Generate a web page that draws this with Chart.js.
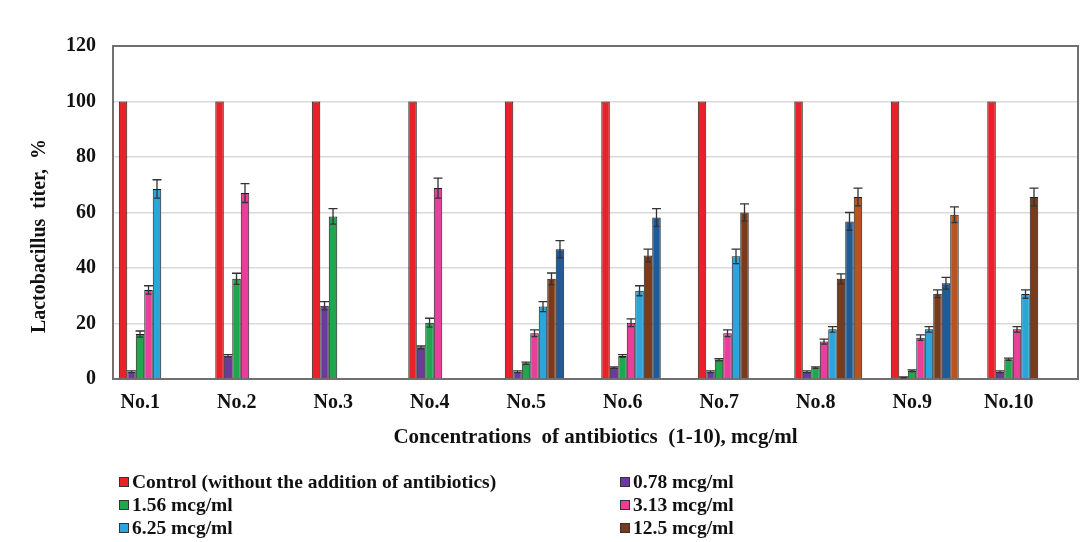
<!DOCTYPE html>
<html>
<head>
<meta charset="utf-8">
<script src="https://cdn.jsdelivr.net/npm/chart.js@4.4.0/dist/chart.umd.min.js"></script>
<style>
  html, body { margin: 0; padding: 0; background: #fff; }
  #wrap { position: relative; width: 1086px; height: 542px; }
  #legend { position: absolute; left: 0; top: 0; width: 1086px; height: 542px; pointer-events: none;
            font-family: "Liberation Serif", "Times New Roman", serif; font-weight: bold; font-size: 19.5px; color: #111; }
  .item { position: absolute; display: flex; align-items: center; white-space: nowrap; height: 22px; }
  .box { width: 8px; height: 8px; border: 1px solid #333; margin-right: 3px; }
</style>
</head>
<body>
<div id="wrap">
  <canvas id="c" width="1086" height="542"></canvas>
  <div id="legend"></div>
</div>
<script>
// ---- data ----
const categories = ["No.1", "No.2", "No.3", "No.4", "No.5", "No.6", "No.7", "No.8", "No.9", "No.10"];
const yTicks = [0, 20, 40, 60, 80, 100, 120];
const xTitle = "Concentrations  of antibiotics  (1-10), mcg/ml";
const yTitle = "Lactobacillus  titer,  %";

const control   = [100, 100, 100, 100, 100, 100, 100, 100, 100, 100];
const c078      = [2.6, 8.4, 26.4, 11.4, 2.6, 4.1, 2.6, 2.6, 0.6, 2.6];
const c156      = [16.2, 36.1, 58.6, 20.3, 5.7, 8.3, 6.9, 4.1, 3.0, 7.1];
const c313      = [32.1, 67.0, null, 68.8, 16.5, 20.3, 16.5, 13.5, 14.9, 17.9];
const c625      = [68.5, null, null, null, 26.1, 31.8, 44.2, 17.9, 17.9, 30.6];
const c125      = [null, null, null, null, 36.1, 44.5, 60.0, 36.1, 30.7, 65.6];
const c25       = [null, null, null, null, 46.8, 58.2, null, 56.8, 34.5, null];
const c50       = [null, null, null, null, null, null, null, 65.6, 59.2, null];

const errControl = [0, 0, 0, 0, 0, 0, 0, 0, 0, 0];
const err078     = [0.3, 0.4, 1.5, 0.5, 0.3, 0.3, 0.3, 0.3, 0.2, 0.3];
const err156     = [1.1, 2.0, 2.8, 1.6, 0.4, 0.5, 0.4, 0.3, 0.3, 0.4];
const err313     = [1.5, 3.4, null, 3.6, 1.2, 1.4, 1.2, 0.9, 1.0, 1.0];
const err625     = [3.3, null, null, null, 1.8, 1.8, 2.6, 1.0, 1.0, 1.5];
const err125     = [null, null, null, null, 2.1, 2.3, 3.1, 1.8, 1.4, 3.2];
const err25      = [null, null, null, null, 3.1, 3.2, null, 3.2, 2.1, null];
const err50      = [null, null, null, null, null, null, null, 3.2, 2.8, null];

const seriesNames = ["Control (without the addition of antibiotics)", "0.78 mcg/ml", "1.56 mcg/ml",
                     "3.13 mcg/ml", "6.25 mcg/ml", "12.5 mcg/ml", "25 mcg/ml", "50 mcg/ml"];
const seriesColors = ["#e8212a", "#6b3a9c", "#1fa64e", "#e8409a", "#2ba5dd", "#7a3a1c", "#1f5b98", "#b7541f"];
const seriesValues = [control, c078, c156, c313, c625, c125, c25, c50];
const seriesErrors = [errControl, err078, err156, err313, err625, err125, err25, err50];
const legendShown = [true, true, true, true, true, true, false, false];
// two unused slots per group (the original layout reserves room for them)
const emptySlot = [null, null, null, null, null, null, null, null, null, null];

// ---- build ----
const datasets = seriesValues.map((vals, i) => ({
  label: seriesNames[i],
  data: vals,
  backgroundColor: seriesColors[i],
  borderColor: "#1a1a1a",
  borderWidth: 1,
  errors: seriesErrors[i],
  categoryPercentage: 0.88,
  barPercentage: 1.0
}));
[0, 1].forEach(() => datasets.push({ label: "", data: emptySlot, categoryPercentage: 0.88, barPercentage: 1.0 }));

const FONT = "'Liberation Serif', 'Times New Roman', serif";

const errorBars = {
  id: "errorBars",
  afterDatasetsDraw(chart) {
    const ctx = chart.ctx;
    const y = chart.scales.y;
    ctx.save();
    ctx.strokeStyle = "#333";
    ctx.lineWidth = 1.3;
    chart.data.datasets.forEach((ds, di) => {
      if (!ds.errors) return;
      const meta = chart.getDatasetMeta(di);
      meta.data.forEach((bar, i) => {
        const v = ds.data[i], e = ds.errors[i];
        if (v == null || !e) return;
        const x = bar.x;
        const yt = y.getPixelForValue(v + e);
        const yb = y.getPixelForValue(v - e);
        ctx.beginPath();
        ctx.moveTo(x, yt); ctx.lineTo(x, yb);
        ctx.moveTo(x - 4.5, yt); ctx.lineTo(x + 4.5, yt);
        ctx.moveTo(x - 3, yb); ctx.lineTo(x + 3, yb);
        ctx.stroke();
      });
    });
    ctx.restore();
  }
};

const plotBox = {
  id: "plotBox",
  beforeDatasetsDraw(chart) {
    const a = chart.chartArea, ctx = chart.ctx;
    ctx.save();
    ctx.strokeStyle = "#707070";
    ctx.lineWidth = 2;
    ctx.strokeRect(a.left, a.top, a.right - a.left, a.bottom - a.top);
    ctx.restore();
  }
};

// y-axis title placed like the original (slightly below the axis middle)
const yTitlePlugin = {
  id: "yTitlePlugin",
  afterDraw(chart) {
    const ctx = chart.ctx;
    ctx.save();
    ctx.translate(40, 236);
    ctx.rotate(-Math.PI / 2);
    ctx.font = "bold 20px " + FONT;
    ctx.fillStyle = "#111";
    ctx.textAlign = "center";
    ctx.textBaseline = "middle";
    ctx.fillText(yTitle, 0, 0);
    ctx.restore();
  }
};

new Chart(document.getElementById("c"), {
  type: "bar",
  data: { labels: categories, datasets },
  options: {
    responsive: false,
    animation: false,
    layout: { padding: { left: 0, right: 8, top: 46, bottom: 0 } },
    plugins: { legend: { display: false }, tooltip: { enabled: false } },
    scales: {
      x: {
        grid: { display: false, drawTicks: false },
        border: { display: false },
        ticks: { font: { family: FONT, size: 20, weight: "bold" }, color: "#111", padding: 12, labelOffset: -21, maxRotation: 0 },
        title: { display: true, text: xTitle,
                 font: { family: FONT, size: 21, weight: "bold" }, color: "#111", padding: { top: 0, bottom: 92 } },
        afterFit(s) { s.height = 163; }
      },
      y: {
        min: 0, max: 120,
        afterBuildTicks(s) { s.ticks = yTicks.map(v => ({ value: v })); },
        grid: { color: "#dadada", lineWidth: 1.5, drawTicks: false },
        border: { display: false },
        ticks: { font: { family: FONT, size: 20, weight: "bold" }, color: "#111", padding: 17 },
        title: { display: false },
        afterFit(s) { s.width = 113; }
      }
    }
  },
  plugins: [plotBox, errorBars, yTitlePlugin]
});

// ---- HTML legend (two columns) ----
const legend = document.getElementById("legend");
const shown = seriesNames.map((n, i) => i).filter(i => legendShown[i]);
const colX = [119, 620];
const rowY = [471, 494, 517];
shown.forEach((idx, k) => {
  const el = document.createElement("div");
  el.className = "item";
  el.style.left = colX[k % 2] + "px";
  el.style.top = rowY[Math.floor(k / 2)] + "px";
  const b = document.createElement("span");
  b.className = "box";
  b.style.background = seriesColors[idx];
  const t = document.createElement("span");
  t.textContent = seriesNames[idx];
  el.appendChild(b); el.appendChild(t);
  legend.appendChild(el);
});
</script>
</body>
</html>
